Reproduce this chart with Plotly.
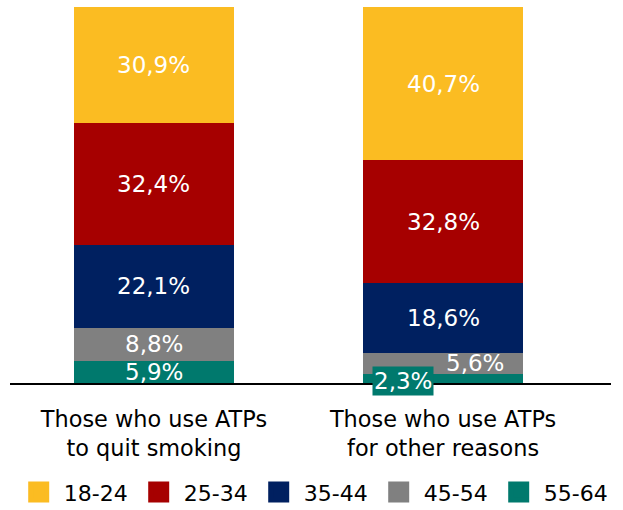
import plotly.graph_objects as go

# --- data ---
categories = ["Those who use ATPs<br>to quit smoking", "Those who use ATPs<br>for other reasons"]
age_groups = ["55-64", "45-54", "35-44", "25-34", "18-24"]  # bottom -> top
values = {
    "55-64": [5.9, 2.3],
    "45-54": [8.8, 5.6],
    "35-44": [22.1, 18.6],
    "25-34": [32.4, 32.8],
    "18-24": [30.9, 40.7],
}
colors = {
    "18-24": "#FBBC22",
    "25-34": "#A60000",
    "35-44": "#002060",
    "45-54": "#808080",
    "55-64": "#00796D",
}

FONT = "DejaVu Sans"

fig = go.Figure()
for g in age_groups:
    fig.add_trace(go.Bar(
        x=categories, y=values[g], name=g, legendgroup=g, showlegend=False,
        marker=dict(color=colors[g], line=dict(width=0)),
    ))
    # legend-only twin so the legend swatch can be bigger than the bar default
    fig.add_trace(go.Scatter(
        x=[None], y=[None], name=g, legendgroup=g, mode="markers",
        marker=dict(symbol="square", size=16, color=colors[g],
                    line=dict(color=colors[g], width=5)),
    ))

# value labels, centred in each segment; the two thin ones on bar 2 are nudged aside
annotations = []
cum = [0.0, 0.0]
for g in age_groups:
    for i, cat in enumerate(categories):
        v = values[g][i]
        mid = cum[i] + v / 2
        a = dict(x=cat, y=mid, xref="x", yref="y", showarrow=False,
                 text=f"{v:.1f}".replace(".", ",") + "%",
                 font=dict(family=FONT, size=23, color="white"))
        if i == 1 and g == "55-64":
            a.update(xshift=-40, yshift=-2, bgcolor=colors[g], borderpad=1)
        elif i == 1 and g == "45-54":
            a.update(xshift=32, yshift=1)
        annotations.append(a)
        cum[i] += v

fig.update_layout(
    barmode="stack",
    bargap=0.446,
    width=623, height=510,
    margin=dict(l=10, r=12, t=7, b=127, autoexpand=False),
    plot_bgcolor="white",
    paper_bgcolor="white",
    font=dict(family=FONT, size=22, color="black"),
    xaxis=dict(
        type="category",
        range=[-0.498, 1.581],
        showline=True, linecolor="black", linewidth=1.5,
        ticks="", showgrid=False,
        ticklabelstandoff=15,
        tickfont=dict(family=FONT, size=22.4, color="black"),
    ),
    yaxis=dict(range=[0, 100], visible=False),
    legend=dict(
        orientation="h", traceorder="reversed",
        xref="container", x=0.022, xanchor="left",
        yref="container", y=0.035, yanchor="middle",
        font=dict(family=FONT, size=22, color="black"),
        entrywidth=65, itemwidth=40,
    ),
    annotations=annotations,
)

# drop the page's default body margin so the figure sits at the window's corner
fig.write_html("out.html", config={"displayModeBar": False},
               post_script="document.body.style.margin='0';")
